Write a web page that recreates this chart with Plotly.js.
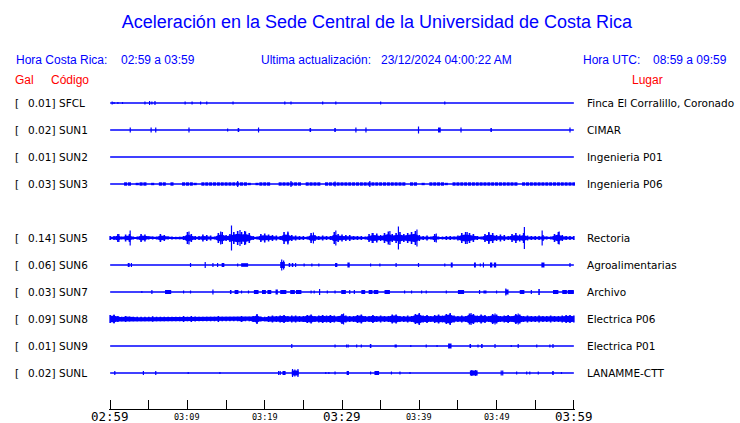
<!DOCTYPE html>
<html><head><meta charset="utf-8">
<script src="https://cdn.plot.ly/plotly-3.0.1.min.js"></script>
<style>html,body{margin:0;padding:0;background:#fff}</style>
</head><body><div id="chart" style="width:740px;height:423px"></div>
<script>
// ---------------- data ----------------
const codes  = ['SFCL','SUN1','SUN2','SUN3','SUN5','SUN6','SUN7','SUN8','SUN9','SUNL'];
const gal    = ['0.01','0.02','0.01','0.03','0.14','0.06','0.03','0.09','0.01','0.02'];
const places = ['Finca El Corralillo, Coronado','CIMAR','Ingenieria P01','Ingenieria P06','Rectoria',
                'Agroalimentarias','Archivo','Electrica P06','Electrica P01','LANAMME-CTT'];
const slot   = [0,1,2,3,5,6,7,8,9,10];           // SUN4 slot is empty
const tickMinutes = [0,5,10,15,20,25,30,35,40,45,50,55,60];
const tickLabels  = ['02:59','','03:09','','03:19','','03:29','','03:39','','03:49','','03:59'];
const tickBig     = [true,false,false,false,false,false,true,false,false,false,false,false,true];

// envelope half-amplitudes (every 0.5 min, 02:59 -> 03:59)
const SUN3_env = [0,0,0,0,1.7,1.7,0,1.2,1.7,1.7, 0,1.2,0,1.7,1.7,0,1.7,0,0,1.7,
  1.7,1.7,1.2,0,1.7,1.7,1.7,1.7,1.7,1.7, 1.7,1.7,1.7,1.7,1.7,1.7,1.2,0,1.2,1.7,
  1.7,1.7,0,0,1.7,1.7,1.7,1.7,1.7,1.7, 0,1.7,1.7,1.7,1.7,0,1.7,1.7,1.7,1.7,
  1.7,1.7,1.7,1.7,1.7,1.7,1.7,1.7,1.7,1.7, 1.7,1.7,1.7,1.7,1.7,1.7,1.7,0,1.7,1.7,
  0,1.2,0,1.7,1.7,1.7,1.7,1.2,0,1.7, 1.7,1.7,1.7,1.7,1.7,1.7,1.7,1.7,1.7,1.7,
  1.7,1.7,1.7,1.7,1.7,1.7,0,1.7,1.7,1.7, 1.7,1.7,1.7,1.7,1.7,1.7,1.7,1.7,1.7,1.7, 1.7];
const SUN5_env = [2,2,4,1.5,3.5,4,1.5,1.5,4,3.5, 1.5,1.5,1.5,4,3,1.5,1.5,1.3,1.3,2,
  6,4,2,2,3.5,3,2.5,1.5,5,6, 3,4,6,7,6,6.5,5,2,1.5,4,
  4.5,3.5,3,2.5,2,6,5.5,3,2.5,2, 2,1.5,5,3,2,2.5,2,2,6,4,
  3.5,3,3,2,2,2,1.5,4,5,4.5, 3,5,6.5,4,5,6,4,5,6,7,
  3,2,2.5,1.5,4,1.5,1.5,2,2,1.5, 2.5,5,6,5,4,2,1.5,4,5.5,5,
  3,3.5,3,2,4,5,3.5,5,2.5,2, 2,2,3,1.5,1.5,4,6,3,2,2, 2];
const SUN8_env = [4,4,3,2.3,3,2.5,2.3,2.3,2.3,2.3, 2.3,2.8,2.3,2.3,2.3,2.3,2.3,2.3,2.3,3,
  2.3,3,2.5,2.3,2.3,2.3,2.3,2.3,3,2.3, 2.3,2.3,2.3,2.3,3,2.3,2.3,3,4.5,2.5,
  2.3,3,3.5,3,3.5,4,3,3.5,3.5,3, 3,4,4.5,3,3.5,4,3.5,4,3.5,3,
  5,3.5,3,3,4,4.5,3,3,4,3, 3.5,3,3,4.5,4.5,3,3,3.5,3,5,
  5.5,3.5,4,3,4,4.5,3.5,5,5.5,3.5, 3,3.5,3,5.5,5,3.5,4.5,4,3,5,
  4.5,3,3.5,4,3,5,4.5,3,3.5,3, 3,3.5,3,3,3.5,3,3,3.5,4,4, 3.5];

// events: [minute, half-amplitude, duration (0 = single spike)]
const SFCL_ev = [[0.26,1.5,0],[0.5,1,0],[1.0,1,0],[1.6,1,0.15],[4.5,1.5,0],[5.1,2,0],[5.4,1.5,0],[5.8,2,0],
  [9.7,1.5,0],[10.6,1.5,0],[11.7,1.5,0],[12.5,1.5,0],[15.9,1.5,0],[22.6,1.5,0],[23.4,1.5,0],[27.5,1.5,0],
  [29.2,1.5,0],[35.0,1.5,0],[43.3,1.5,0]];
const SUN1_ev = [[2.6,2.5,0],[5.3,2.5,0],[5.9,2.5,0],[10.2,2.5,0],[15.2,1.5,0],[16.6,2,0.2],[19.2,2.5,0],
  [25.9,2,0.2],[29.1,2,0.2],[31.8,2.5,0],[33.1,2.5,0],[39.9,3.5,0],[42.6,2.5,0.35],[45.4,2.5,0],[49.3,2,0.2],[59.5,2.5,0]];
const SUN2_ev = [];
const SUN3_ev = [[16.5,3,0],[23.4,3,0],[29.1,2.5,0],[33.6,3,0]];
const SUN5_ev = [[1.13,4,0],[2.59,7.5,0],[10.2,6.5,0],[14.3,6.5,0],[15.7,12.5,0],[16.8,8,0],[17.4,7,0],
  [23.0,6.5,0],[26.3,5.5,0],[29.2,7.5,0],[33.9,5,0],[36.2,7,0],[37.3,11.5,0],[39.7,8.5,0],[42.2,4.5,0],
  [46.2,6,0],[49.0,6,0],[53.6,11,0],[55.9,7.5,0],[58.1,6.5,0]];
const SUN6_ev = [[2.4,2,0.25],[2.75,2,0.15],[10.4,2,0],[12.3,3,0],[13.3,2,0.15],[13.9,2,0],[14.6,2,0.35],
  [16.5,1.5,0],[17.4,1.8,0.9],[22.3,3,0.6],[22.2,5.5,0],[22.45,4.5,0],[23.2,2,0.2],[23.6,2,0.2],[24.0,2,0.15],[25.1,1.5,0],
  [26.1,1.5,0],[27.0,1.5,0],[29.25,2,0.3],[30.85,2.5,0.3],[33.7,1.5,0],[34.9,1.5,0],[37.0,2,0],[39.9,2,0],
  [43.3,1.5,0],[44.2,2.5,0.25],[47.2,2.5,0.25],[47.9,1.5,0],[48.3,2.5,0],[49.3,2.5,0.3],[49.8,2.5,0.3],
  [56.0,2.5,0.4],[59.5,2,0]];
const SUN7_ev = [[4.1,1,0],[5.4,2,0],[7.5,2,0.8],[9.5,1.5,0],[10.4,1.5,0],[13.3,2.5,0],[15.6,2,0.2],
  [16.35,2,0.5],[17.0,1.5,0],[17.9,1.5,0],[18.9,2,0.6],[19.9,2,0.5],[20.6,2,0.5],[21.55,2.5,0.3],[22.4,2,0.8],
  [23.6,2,0.6],[24.4,2,0.7],[26.0,1.5,0],[26.4,1.5,0],[27.1,3,0],[28.1,1.5,0],[29.1,1.5,0],[30.2,2,0.6],
  [31.0,2,0],[31.6,2,0],[32.75,2,0.5],[33.7,2,0.5],[34.4,2,0.6],[35.85,2,0.7],[38.1,1.5,0],[39.0,1.5,0],
  [40.3,1.5,0],[40.9,1.5,0],[43.5,1.5,0],[45.4,2,0.8],[47.8,2,0],[48.5,1.5,0.4],[50.0,1.5,0],[51.35,2.5,0.4],
  [51.2,3.5,0],[53.3,2,0.6],[54.5,2,0],[55.5,3,0.2],[57.65,2,0.7],[58.8,2,0.6],[59.6,2,0.8]];
const SUN8_ev = [[0.5,4.5,0],[19.0,5,0],[30.2,5.5,0],[40.0,6,0],[44.0,6,0],[46.7,6,0],[49.8,5.5,0],[52.8,5.5,0]];
const SUN9_ev = [[23.5,2,0],[29.1,1.5,0],[30.6,1.5,0],[30.8,1.5,0],[31.9,1.5,0],[32.5,1.5,0],[33.7,2,0.2],
  [36.95,1.5,0.3],[38.9,1,0],[40.9,1.5,0],[42.3,1,0],[43.95,2.5,0.45],[46.6,2,0.2],[47.6,1.5,0],[48.1,2,0.2],
  [49.8,2,0.15],[51.9,1,0],[52.8,2,0],[55.2,1.5,0],[56.9,1.5,0],[57.3,2,0]];
const SUNL_ev = [[0.6,2,0],[4.3,2,0],[5.9,2,0],[10.1,1,0],[14.2,1,0],[21.8,2,0],[22.0,2,0],[22.5,2,0.4],
  [23.95,2.5,0.9],[23.6,4,0],[23.9,3.5,0],[24.3,4,0],[27.9,1,0],[28.3,1,0],[29.1,1.5,0],[30.75,2,0.3],[33.7,1.5,0],
  [34.5,2,0.6],[36.4,1.5,0],[37.5,1.5,0],[38.8,1,0],[47.05,2.5,1.0],[46.8,3,0],[47.3,3,0],[50.6,2.5,0],[50.8,2.5,0],[52.6,1.5,0],
  [53.9,1.5,0],[54.3,1.5,0],[55.4,1.5,0],[57.3,2,0.2],[58.4,1,0]];

const envelopes = {SUN3:SUN3_env, SUN5:SUN5_env, SUN8:SUN8_env};
const envStyle  = {SUN3:'bars', SUN5:'wave', SUN8:'wave'};
const coreShare = {SUN5:0.6, SUN8:0.8};
const events = {SFCL:SFCL_ev,SUN1:SUN1_ev,SUN2:SUN2_ev,SUN3:SUN3_ev,SUN5:SUN5_ev,SUN6:SUN6_ev,
                SUN7:SUN7_ev,SUN8:SUN8_ev,SUN9:SUN9_ev,SUNL:SUNL_ev};

// ---------------- drawing ----------------
const BLUE = '#0000ff', RED = '#ff0000';
const W = 740, H = 423, L = 109, R = 165, T = 90, B = 14;
const PAD = 0.15;                         // minutes of padding so the end ticks are kept
const ROW = 27;
const plotW = W - L - R;
const px2paperX = p => (p - L) / plotW;
const py2paperY = p => (H - B - p) / (H - T - B);

function segs(xsIn, ampIn, y0) {
  const xs=[], ys=[];
  xsIn.forEach((x,k)=>{ xs.push(x,x,null); ys.push(y0-ampIn[k],y0+ampIn[k],null); });
  return {xs, ys};
}

const traces = [];
codes.forEach((c, i) => {
  const y0 = -ROW * slot[i];
  traces.push({type:'scatter', mode:'lines', x:[0,60], y:[y0,y0],
    line:{color:BLUE, width:1.3}, hoverinfo:'skip', showlegend:false});
  const env = envelopes[c];
  if (env && envStyle[c] === 'bars') {
    traces.push({type:'bar', x:env.map((a,k)=>k*0.5), y:env.map(a=>2*a), base:env.map(a=>y0-a),
      width:0.4, marker:{color:BLUE, line:{width:0}}, hoverinfo:'skip', showlegend:false});
  } else if (env) {
    const xs = env.map((a,k)=>k*0.5);
    const core = env.map(a=>Math.max(1.1, coreShare[c]*a));
    const up = core.map(a=>y0+a), lo = core.map(a=>y0-a);
    traces.push({type:'scatter', mode:'lines', x:xs.concat(xs.slice().reverse()),
      y:up.concat(lo.slice().reverse()), fill:'toself', fillcolor:BLUE,
      line:{color:BLUE, width:0}, hoverinfo:'skip', showlegend:false});
    const s = segs(xs, env, y0);
    traces.push({type:'scatter', mode:'lines', x:s.xs, y:s.ys, line:{color:BLUE, width:1.6},
      hoverinfo:'skip', showlegend:false});
  }
  const ev = events[c];
  const blocks = ev.filter(e=>e[2]>0), spikes = ev.filter(e=>e[2]===0);
  if (blocks.length) {
    traces.push({type:'bar', x:blocks.map(e=>e[0]), y:blocks.map(e=>2*e[1]), base:blocks.map(e=>y0-e[1]),
      width:blocks.map(e=>e[2]), marker:{color:BLUE, line:{width:0}}, hoverinfo:'skip', showlegend:false});
  }
  if (spikes.length) {
    const s = segs(spikes.map(e=>e[0]), spikes.map(e=>e[1]), y0);
    traces.push({type:'scatter', mode:'lines', x:s.xs, y:s.ys, line:{color:BLUE, width:1.2},
      hoverinfo:'skip', showlegend:false});
  }
});

const ann = [];
const LBL = {family:'DejaVu Sans', size:10.5, color:'#000'};
codes.forEach((c, i) => {
  const y0 = -ROW * slot[i];
  ann.push({xref:'paper', yref:'y', x:px2paperX(14), y:y0, text:'[', xanchor:'left', yanchor:'middle', showarrow:false, font:LBL, borderpad:0});
  ann.push({xref:'paper', yref:'y', x:px2paperX(56), y:y0, text:gal[i]+']', xanchor:'right', yanchor:'middle', showarrow:false, font:LBL, borderpad:0});
  ann.push({xref:'paper', yref:'y', x:px2paperX(58), y:y0, text:c, xanchor:'left', yanchor:'middle', showarrow:false, font:LBL, borderpad:0});
  ann.push({xref:'paper', yref:'y', x:px2paperX(586), y:y0, text:places[i], xanchor:'left', yanchor:'middle', showarrow:false, font:LBL, borderpad:0});
});
tickMinutes.forEach((m, j) => {
  if (!tickLabels[j]) return;
  ann.push({xref:'x', yref:'paper', x:m, y:0, yshift: tickBig[j] ? 1 : -2, text:tickLabels[j],
    xanchor:'center', yanchor:'top', showarrow:false, borderpad:0,
    font:{family:'DejaVu Sans Mono', size: tickBig[j] ? 12.5 : 8.5, color:'#000'}});
});
const HDR = {family:'Liberation Sans', size:12, color:BLUE};
const hdr = [
  ['Hora Costa Rica:',15,60,HDR],['02:59 a 03:59',120,60,HDR],
  ['Ultima actualización:',260,60,HDR],['23/12/2024 04:00:22 AM',380,60,HDR],
  ['Hora UTC:',582,60,HDR],['08:59 a 09:59',652,60,HDR],
  ['Gal',14,80,{...HDR,color:RED}],['Código',50,80,{...HDR,color:RED}],['Lugar',631,80,{...HDR,color:RED}]
];
hdr.forEach(h => ann.push({xref:'paper', yref:'paper', x:px2paperX(h[1]), y:py2paperY(h[2]), text:h[0],
  xanchor:'left', yanchor:'middle', showarrow:false, font:h[3], borderpad:0}));

const layout = {
  width:W, height:H, margin:{l:L, r:R, t:T, b:B},
  paper_bgcolor:'#fff', plot_bgcolor:'#fff', barmode:'overlay', showlegend:false,
  title:{text:'Aceleración en la Sede Central de la Universidad de Costa Rica',
    font:{family:'Liberation Sans', size:18, color:BLUE},
    xref:'container', yref:'container', x:377/W, xanchor:'center', y:1-22/H, yanchor:'middle'},
  xaxis:{range:[-PAD,60+PAD], tickvals:tickMinutes, ticks:'inside', ticklen:9, tickwidth:1, tickcolor:'#000',
    showticklabels:false, showline:true, linecolor:'#000', linewidth:1, showgrid:false, zeroline:false, fixedrange:true},
  yaxis:{range:[-(H-B-T-13), 13], visible:false, showgrid:false, zeroline:false, fixedrange:true},
  annotations:ann
};
Plotly.newPlot('chart', traces, layout, {staticPlot:true, displayModeBar:false});
</script></body></html>
